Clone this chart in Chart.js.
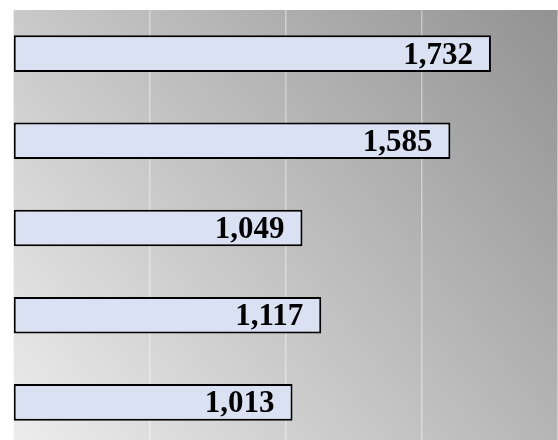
<!DOCTYPE html>
<html>
<head>
<meta charset="utf-8">
<script src="https://cdn.jsdelivr.net/npm/chart.js@4"></script>
<style>
  html, body { margin: 0; padding: 0; background: #fff; overflow: hidden; }
  #wrap { width: 558px; height: 446px; }
</style>
</head>
<body>
<div id="wrap"><canvas id="barChart"></canvas></div>
<script>
const categories = ['A', 'B', 'C', 'D', 'E'];
const values = [1732, 1585, 1049, 1117, 1013];
const axisMax = 1975;
const gridStep = 500;

// grey gradient behind the plot area, light bottom-left to dark top-right
const bgPlugin = {
    id: 'bgGradient',
    beforeDraw(chart) {
        const { ctx, chartArea: a } = chart;
        const g = ctx.createLinearGradient(a.left, a.bottom, a.right, a.top);
        g.addColorStop(0, '#ededed');
        g.addColorStop(1, '#929292');
        ctx.save();
        ctx.fillStyle = g;
        ctx.fillRect(a.left, a.top, a.right - a.left, a.bottom - a.top);
        ctx.restore();
    }
};

// value labels at the inside end of each bar
const labelPlugin = {
    id: 'barLabels',
    afterDatasetsDraw(chart) {
        const { ctx } = chart;
        const meta = chart.getDatasetMeta(0);
        ctx.save();
        ctx.font = 'bold 31px "Liberation Serif", serif';
        ctx.fillStyle = '#000';
        ctx.textAlign = 'right';
        ctx.textBaseline = 'middle';
        meta.data.forEach((bar, i) => {
            ctx.fillText(values[i].toLocaleString('en-US'), bar.x - 18, bar.y + 2);
        });
        ctx.restore();
    }
};

new Chart(document.getElementById('barChart'), {
    type: 'bar',
    data: {
        labels: categories,
        datasets: [{
            data: values,
            backgroundColor: '#d9e1f2',
            borderColor: '#000',
            borderWidth: 2,
            borderSkipped: false,
            categoryPercentage: 0.42,
            barPercentage: 1.0
        }]
    },
    options: {
        indexAxis: 'y',
        responsive: true,
        maintainAspectRatio: false,
        animation: false,
        layout: { padding: { left: 13, top: 10, right: 0, bottom: 0 } },
        scales: {
            x: {
                min: 0,
                max: axisMax,
                ticks: { display: false, stepSize: gridStep },
                grid: { color: 'rgba(255,255,255,0.4)', lineWidth: 1.5, drawTicks: false },
                border: { display: false }
            },
            y: {
                ticks: { display: false },
                grid: { display: false, drawTicks: false },
                border: { color: 'rgba(255,255,255,0.5)', width: 2 }
            }
        },
        plugins: {
            legend: { display: false },
            tooltip: { enabled: false }
        }
    },
    plugins: [bgPlugin, labelPlugin]
});
</script>
</body>
</html>
